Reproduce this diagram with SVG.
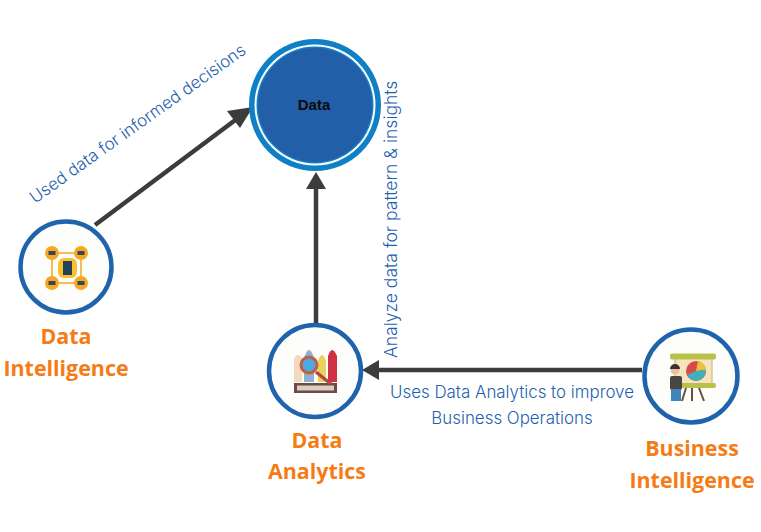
<svg xmlns="http://www.w3.org/2000/svg" width="761" height="532" viewBox="0 0 761 532">
<style>
.ring{fill:#fdfdfc;stroke:#1f63ad;stroke-width:4.5}
.lbl{font:700 21.4px "Open Sans","Liberation Sans",sans-serif;fill:#f57c14;text-anchor:middle}
.note{font:300 16.9px "Inter","Liberation Sans",sans-serif;fill:#1f5fb0}
.mid{text-anchor:middle}
.conn{stroke:#3c3c3c;stroke-width:4.5;fill:none}
.head{fill:#3c3c3c}
</style>
<rect width="761" height="532" fill="#ffffff"/>
<g id="connectors">
<path class="conn" d="M95 225L238 118"/>
<path class="head" d="M253 107L240 128L227 111Z"/>
<path class="conn" d="M316 323V188"/>
<path class="head" d="M316 172L326 189H306Z"/>
<path class="conn" d="M642 370H378"/>
<path class="head" d="M362 370L379 360V380Z"/>
</g>
<g id="data">
<circle cx="315" cy="105" r="66" fill="#0f7fc6"/>
<circle cx="315" cy="105" r="60.500" fill="#ffffff"/>
<circle cx="315" cy="105" r="58.500" fill="#0f7fc6"/>
<circle cx="315" cy="105" r="57" fill="#235fa9"/>
<text x="314" y="110" text-anchor="middle" style="font:700 15px 'Liberation Sans',sans-serif" fill="#0b0b0b">Data</text>
</g>
<g id="data-intelligence">
<circle class="ring" cx="66" cy="267" r="45.500"/>
<rect x="52" y="253" width="29" height="30" fill="none" stroke="#f5a623" stroke-width="1.500"/>
<circle cx="52" cy="253" r="7" fill="#f7a823"/><circle cx="81" cy="253" r="7" fill="#f7a823"/><circle cx="52" cy="283" r="7" fill="#f7a823"/><circle cx="81" cy="283" r="7" fill="#f7a823"/>
<g fill="#33475e"><rect x="48.500" y="251" width="7" height="4"/><rect x="77.500" y="251" width="7" height="4"/><rect x="48.500" y="281" width="7" height="4"/><rect x="77.500" y="281" width="7" height="4"/></g>
<rect x="58" y="258" width="19" height="20" rx="6" fill="#fbc12d"/>
<rect x="63" y="261" width="9" height="14" fill="#26405c"/>
<text class="lbl" x="66" y="344">Data</text>
<text class="lbl" x="66" y="376">Intelligence</text>
</g>
<g id="data-analytics">
<circle class="ring" cx="315" cy="371" r="46"/>
<path d="M294 382V360a4 5 0 0 1 8 0V382Z" fill="#f3d9bd"/>
<path d="M304 382V358q5-16 10 0V382Z" fill="#8fb2d2"/>
<path d="M318 382V361q4-12 8 0V382Z" fill="#e9d25a"/>
<path d="M328 382V356q4-12 9 0V382Z" fill="#cf3042"/>
<rect x="294" y="383" width="43" height="10" fill="#6f4a42"/>
<rect x="297" y="385.500" width="37" height="5" fill="#d8cfc0"/>
<path d="M316 372L331 384" stroke="#b04a44" stroke-width="3.500"/>
<circle cx="309" cy="365" r="8" fill="#4aa8e4" stroke="#c0603e" stroke-width="3"/>
<text class="lbl" x="317" y="448">Data</text>
<text class="lbl" x="317" y="479">Analytics</text>
</g>
<g id="business-intelligence">
<circle class="ring" cx="691" cy="376" r="46.500"/>
<rect x="675" y="358" width="37" height="28" fill="#f8e3bf" stroke="#c8b070"/>
<rect x="670" y="353.500" width="46" height="6" rx="2" fill="#b8c24a"/>
<rect x="675" y="383" width="41" height="5" rx="2" fill="#b8c24a"/>
<circle cx="696" cy="371" r="10" fill="#d84a4a"/>
<path d="M696 371L698 361a10 10 0 0 1 8 9Z" fill="#e8c23c"/>
<path d="M696 371L706 370a10 10 0 0 1-19 5Z" fill="#3fb0bf"/>
<path d="M686 388L682 401M692 388V401M699 388L704 401" stroke="#6a5040" stroke-width="2"/>
<circle cx="675" cy="370" r="4.500" fill="#e8bfa0"/>
<path d="M670 369a5 5 0 0 1 10 0Z" fill="#3b3331"/>
<rect x="670" y="376" width="12" height="14" rx="2" fill="#4a4540"/>
<rect x="671" y="389" width="10" height="12" fill="#3f87b8"/>
<text class="lbl" x="692" y="456">Business</text>
<text class="lbl" x="692" y="488">Intelligence</text>
</g>
<g id="labels">
<text class="note" transform="translate(35 204) rotate(-35.500)">Used data for informed decisions</text>
<text class="note" style="font-size:17.500px" transform="translate(397 358) rotate(-90)">Analyze data for pattern &amp; insights</text>
<text class="note mid" x="512" y="398">Uses Data Analytics to improve</text>
<text class="note mid" x="512" y="424">Business Operations</text>
</g>
</svg>
